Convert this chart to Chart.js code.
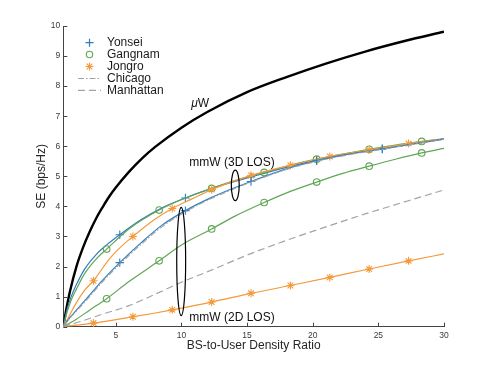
<!DOCTYPE html>
<html>
<head>
<meta charset="utf-8">
<script src="https://cdn.jsdelivr.net/npm/chart.js@4.4.1/dist/chart.umd.min.js"></script>
<style>
html,body{margin:0;padding:0;background:#fff;}
canvas{display:block;}
</style>
</head>
<body>
<canvas id="c" width="491" height="368"></canvas>
<script>
// ---------------- data ----------------
const xTicks = [5, 10, 15, 20, 25, 30];
const yTicks = [0, 1, 2, 3, 4, 5, 6, 7, 8, 9, 10];

const uwX = [1, 1.25, 1.5, 2, 2.5, 3, 3.5, 4, 4.5, 5, 6, 7, 8, 10, 12, 15, 18, 21, 24, 27, 30];
const uwY = [0, 0.63, 1.16, 2.0, 2.63, 3.15, 3.6, 3.98, 4.33, 4.63, 5.15, 5.6, 5.98, 6.62, 7.15, 7.8, 8.3, 8.75, 9.15, 9.5, 9.81];

const yonsei3dX = [1, 1.3, 1.6, 2, 2.6, 3.5, 4.3, 5.3, 7, 8.5, 10.3, 12.3, 15.3, 18, 20.3, 22.5, 25.3, 28, 30];
const yonsei3dY = [0, 0.6, 1.0, 1.4, 1.9, 2.4, 2.72, 3.06, 3.58, 3.95, 4.28, 4.6, 4.98, 5.3, 5.53, 5.72, 5.92, 6.1, 6.25];

const gangnam3dX = [1, 1.3, 1.6, 2, 2.6, 3.5, 4.3, 6, 8.3, 10.3, 12.3, 14, 16.3, 18.3, 20.3, 22.3, 24.3, 26.3, 28.3, 30];
const gangnam3dY = [0, 0.5, 0.88, 1.25, 1.75, 2.25, 2.58, 3.25, 3.88, 4.28, 4.6, 4.85, 5.13, 5.37, 5.57, 5.74, 5.9, 6.04, 6.16, 6.25];

const jongro3dX = [1, 1.5, 2, 2.6, 3.3, 4.5, 5.3, 6.3, 8, 9.3, 10.8, 12.3, 15.3, 18.3, 21.3, 24.3, 27.3, 30];
const jongro3dY = [0, 0.4, 0.8, 1.2, 1.53, 2.25, 2.62, 3.0, 3.58, 3.93, 4.25, 4.56, 5.03, 5.37, 5.66, 5.88, 6.09, 6.25];

const yonsei2dX = [1, 1.5, 2, 3, 4, 5.3, 7, 8.5, 10.3, 12.3, 13.8, 15.3, 18, 20.3, 22.5, 25.3, 28, 30];
const yonsei2dY = [0, 0.3, 0.55, 1.05, 1.55, 2.13, 2.82, 3.37, 3.86, 4.3, 4.58, 4.83, 5.25, 5.52, 5.72, 5.91, 6.1, 6.24];

const chicagoX = [1, 1.5, 2, 3, 4, 5.3, 7, 8.5, 10.3, 12.3, 13.8, 15.3, 18, 20.3, 22.5, 25.3, 28, 30];
const chicagoY = [0, 0.28, 0.52, 1.0, 1.5, 2.08, 2.77, 3.32, 3.82, 4.27, 4.55, 4.81, 5.23, 5.5, 5.7, 5.9, 6.09, 6.23];

const gangnam2dX = [1, 2, 3, 4.3, 6, 8.3, 10, 12.3, 14, 16.3, 18.3, 20.3, 22.3, 24.3, 26.3, 28.3, 30];
const gangnam2dY = [0, 0.25, 0.55, 0.93, 1.5, 2.19, 2.72, 3.25, 3.66, 4.13, 4.5, 4.81, 5.1, 5.34, 5.57, 5.78, 5.93];

const jongro2dX = [1, 2, 3.3, 4.8, 6.3, 7.8, 9.3, 12.3, 15.3, 18.3, 21.3, 24.3, 27.3, 30];
const jongro2dY = [0, 0.05, 0.12, 0.22, 0.33, 0.44, 0.56, 0.82, 1.11, 1.37, 1.64, 1.92, 2.19, 2.42];

const manhattanX = [1, 2, 4, 6, 8, 10, 12, 15, 18, 21, 24, 27, 30];
const manhattanY = [0, 0.13, 0.42, 0.7, 1.08, 1.48, 1.83, 2.38, 2.87, 3.32, 3.75, 4.15, 4.55];

// x positions carrying markers
const yonseiMarkX = [5.3, 10.3, 15.3, 20.3, 25.3];
const gangnamMarkX = [4.3, 8.3, 12.3, 16.3, 20.3, 24.3, 28.3];
const jongroMarkX = [3.3, 6.3, 9.3, 12.3, 15.3, 18.3, 21.3, 24.3, 27.3];

const legendLabels = ['Yonsei', 'Gangnam', 'Jongro', 'Chicago', 'Manhattan'];

// ---------------- styling ----------------
const BLUE = '#2f7dc0', GREEN = '#62a556', ORANGE = '#f39a3a', GRAY = '#a3a3a3';
const FONT = '"Liberation Sans", Arial, Helvetica, sans-serif';

function pts(xs, ys) { return xs.map((x, i) => ({ x: x, y: ys[i] })); }
function markRadius(marks, r) {
  return ctx => {
    const p = ctx.raw;
    return p && marks.some(m => Math.abs(m - p.x) < 1e-6) ? r : 0;
  };
}
function curve(xs, ys, color, opts) {
  return Object.assign({
    data: pts(xs, ys),
    showLine: true,
    borderColor: color,
    backgroundColor: color,
    borderWidth: 1.2,
    pointRadius: 0,
    pointHoverRadius: 0,
    pointBorderColor: color,
    pointBackgroundColor: 'rgba(0,0,0,0)',
    pointBorderWidth: 1.1,
    cubicInterpolationMode: 'monotone',
    fill: false
  }, opts || {});
}

const datasets = [
  curve(manhattanX, manhattanY, GRAY, { borderDash: [7, 4], borderWidth: 1.2 }),
  curve(jongro2dX, jongro2dY, ORANGE, { pointStyle: 'star', pointRadius: markRadius(jongroMarkX, 4) }),
  curve(gangnam2dX, gangnam2dY, GREEN, { pointStyle: 'circle', pointRadius: markRadius(gangnamMarkX, 3.3) }),
  curve(chicagoX, chicagoY, GRAY, { borderDash: [6, 2, 1.5, 2], borderWidth: 1.2 }),
  curve(yonsei2dX, yonsei2dY, BLUE, { pointStyle: 'cross', pointRadius: markRadius(yonseiMarkX, 4.2) }),
  curve(jongro3dX, jongro3dY, ORANGE, { pointStyle: 'star', pointRadius: markRadius(jongroMarkX, 4) }),
  curve(gangnam3dX, gangnam3dY, GREEN, { pointStyle: 'circle', pointRadius: markRadius(gangnamMarkX, 3.3) }),
  curve(yonsei3dX, yonsei3dY, BLUE, { pointStyle: 'cross', pointRadius: markRadius(yonseiMarkX, 4.2) }),
  curve(uwX, uwY, '#000000', { borderWidth: 2.4 })
];

// annotation anchors in data coordinates
const notes = {
  uw: { x: 10.75, y: 7.42 },
  mm3d: { x: 10.6, y: 5.46, text: 'mmW (3D LOS)' },
  mm2d: { x: 10.6, y: 0.31, text: 'mmW (2D LOS)' },
  ell3d: { x: 14.1, y: 4.7, rx: 0.3, ry: 0.51 },
  ell2d: { x: 9.98, y: 2.17, rx: 0.34, ry: 1.8 }
};

const decor = {
  id: 'decor',
  afterDraw(chart) {
    const ctx = chart.ctx;
    const xs = chart.scales.x, ys = chart.scales.y;
    const ca = chart.chartArea;
    ctx.save();
    // inward tick marks
    ctx.strokeStyle = '#444';
    ctx.lineWidth = 1;
    ctx.beginPath();
    yTicks.forEach(v => {
      const py = Math.round(ys.getPixelForValue(v)) + 0.5;
      ctx.moveTo(ca.left, py); ctx.lineTo(ca.left + 4, py);
    });
    xTicks.forEach(v => {
      const px = Math.round(xs.getPixelForValue(v)) + 0.5;
      ctx.moveTo(px, ca.bottom); ctx.lineTo(px, ca.bottom - 4);
    });
    ctx.stroke();

    // axis titles
    ctx.fillStyle = '#262626';
    ctx.font = '12px ' + FONT;
    ctx.textAlign = 'center';
    ctx.textBaseline = 'middle';
    ctx.fillText('BS-to-User Density Ratio', (ca.left + ca.right) / 2, 346);
    ctx.save();
    ctx.translate(42, (ca.top + ca.bottom) / 2);
    ctx.rotate(-Math.PI / 2);
    ctx.fillText('SE (bps/Hz)', 0, 0);
    ctx.restore();

    // annotations
    ctx.textAlign = 'left';
    ctx.fillStyle = '#111';
    const ux = xs.getPixelForValue(notes.uw.x), uy = ys.getPixelForValue(notes.uw.y);
    ctx.font = 'italic 12px ' + FONT;
    ctx.fillText('\u03bc', ux, uy);
    const mw = ctx.measureText('\u03bc').width;
    ctx.font = '12px ' + FONT;
    ctx.fillText('W', ux + mw, uy);
    [notes.mm3d, notes.mm2d].forEach(n => {
      ctx.fillText(n.text, xs.getPixelForValue(n.x), ys.getPixelForValue(n.y));
    });
    ctx.strokeStyle = '#000';
    ctx.lineWidth = 1.2;
    [notes.ell3d, notes.ell2d].forEach(e => {
      const cx = xs.getPixelForValue(e.x), cy = ys.getPixelForValue(e.y);
      const rx = Math.abs(xs.getPixelForValue(e.x + e.rx) - cx);
      const ry = Math.abs(ys.getPixelForValue(e.y + e.ry) - cy);
      ctx.beginPath();
      ctx.ellipse(cx, cy, rx, ry, 0, 0, Math.PI * 2);
      ctx.stroke();
    });

    // legend
    const lx = 89.5, tx = 107, rows = [42.7, 54.5, 66.5, 78.5, 90.3];
    ctx.font = '12px ' + FONT;
    ctx.fillStyle = '#1a1a1a';
    ctx.textBaseline = 'middle';
    legendLabels.forEach((lab, i) => ctx.fillText(lab, tx, rows[i]));
    ctx.lineWidth = 1.2;
    // Yonsei +
    ctx.strokeStyle = BLUE;
    ctx.beginPath();
    ctx.moveTo(lx - 4, rows[0]); ctx.lineTo(lx + 4, rows[0]);
    ctx.moveTo(lx, rows[0] - 4); ctx.lineTo(lx, rows[0] + 4);
    ctx.stroke();
    // Gangnam o
    ctx.strokeStyle = GREEN;
    ctx.lineWidth = 1.1;
    ctx.beginPath();
    ctx.arc(lx, rows[1], 3.2, 0, Math.PI * 2);
    ctx.stroke();
    // Jongro *
    ctx.strokeStyle = ORANGE;
    ctx.beginPath();
    const r = 4, d = r * Math.SQRT1_2;
    ctx.moveTo(lx - r, rows[2]); ctx.lineTo(lx + r, rows[2]);
    ctx.moveTo(lx, rows[2] - r); ctx.lineTo(lx, rows[2] + r);
    ctx.moveTo(lx - d, rows[2] - d); ctx.lineTo(lx + d, rows[2] + d);
    ctx.moveTo(lx - d, rows[2] + d); ctx.lineTo(lx + d, rows[2] - d);
    ctx.stroke();
    // Chicago dash-dot
    ctx.strokeStyle = GRAY;
    ctx.lineWidth = 1.2;
    ctx.setLineDash([6, 2, 1.5, 2]);
    ctx.beginPath();
    ctx.moveTo(78, rows[3]); ctx.lineTo(101, rows[3]);
    ctx.stroke();
    ctx.setLineDash([7, 4]);
    ctx.beginPath();
    ctx.moveTo(78, rows[4]); ctx.lineTo(101, rows[4]);
    ctx.stroke();
    ctx.restore();
  }
};

new Chart(document.getElementById('c'), {
  type: 'scatter',
  data: { datasets: datasets },
  options: {
    responsive: false,
    animation: false,
    devicePixelRatio: 1,
    layout: { padding: { left: 0, right: 47, top: 26, bottom: 0 } },
    plugins: { legend: { display: false }, tooltip: { enabled: false } },
    elements: { line: { tension: 0 } },
    scales: {
      x: {
        type: 'linear', min: 1, max: 30,
        afterBuildTicks: s => { s.ticks = xTicks.map(v => ({ value: v })); },
        afterFit: s => { s.height = 41.3; },
        grid: { display: false, drawTicks: false },
        border: { display: true, color: '#444', width: 1 },
        ticks: { padding: 4, color: '#3a3a3a', font: { family: FONT, size: 8.5 }, maxRotation: 0 }
      },
      y: {
        type: 'linear', min: 0, max: 10,
        afterBuildTicks: s => { s.ticks = yTicks.map(v => ({ value: v })); },
        afterFit: s => { s.width = 63.3; },
        grid: { display: false, drawTicks: false },
        border: { display: true, color: '#444', width: 1 },
        ticks: { padding: 3, color: '#3a3a3a', font: { family: FONT, size: 8.5 } }
      }
    }
  },
  plugins: [decor]
});
</script>
</body>
</html>
